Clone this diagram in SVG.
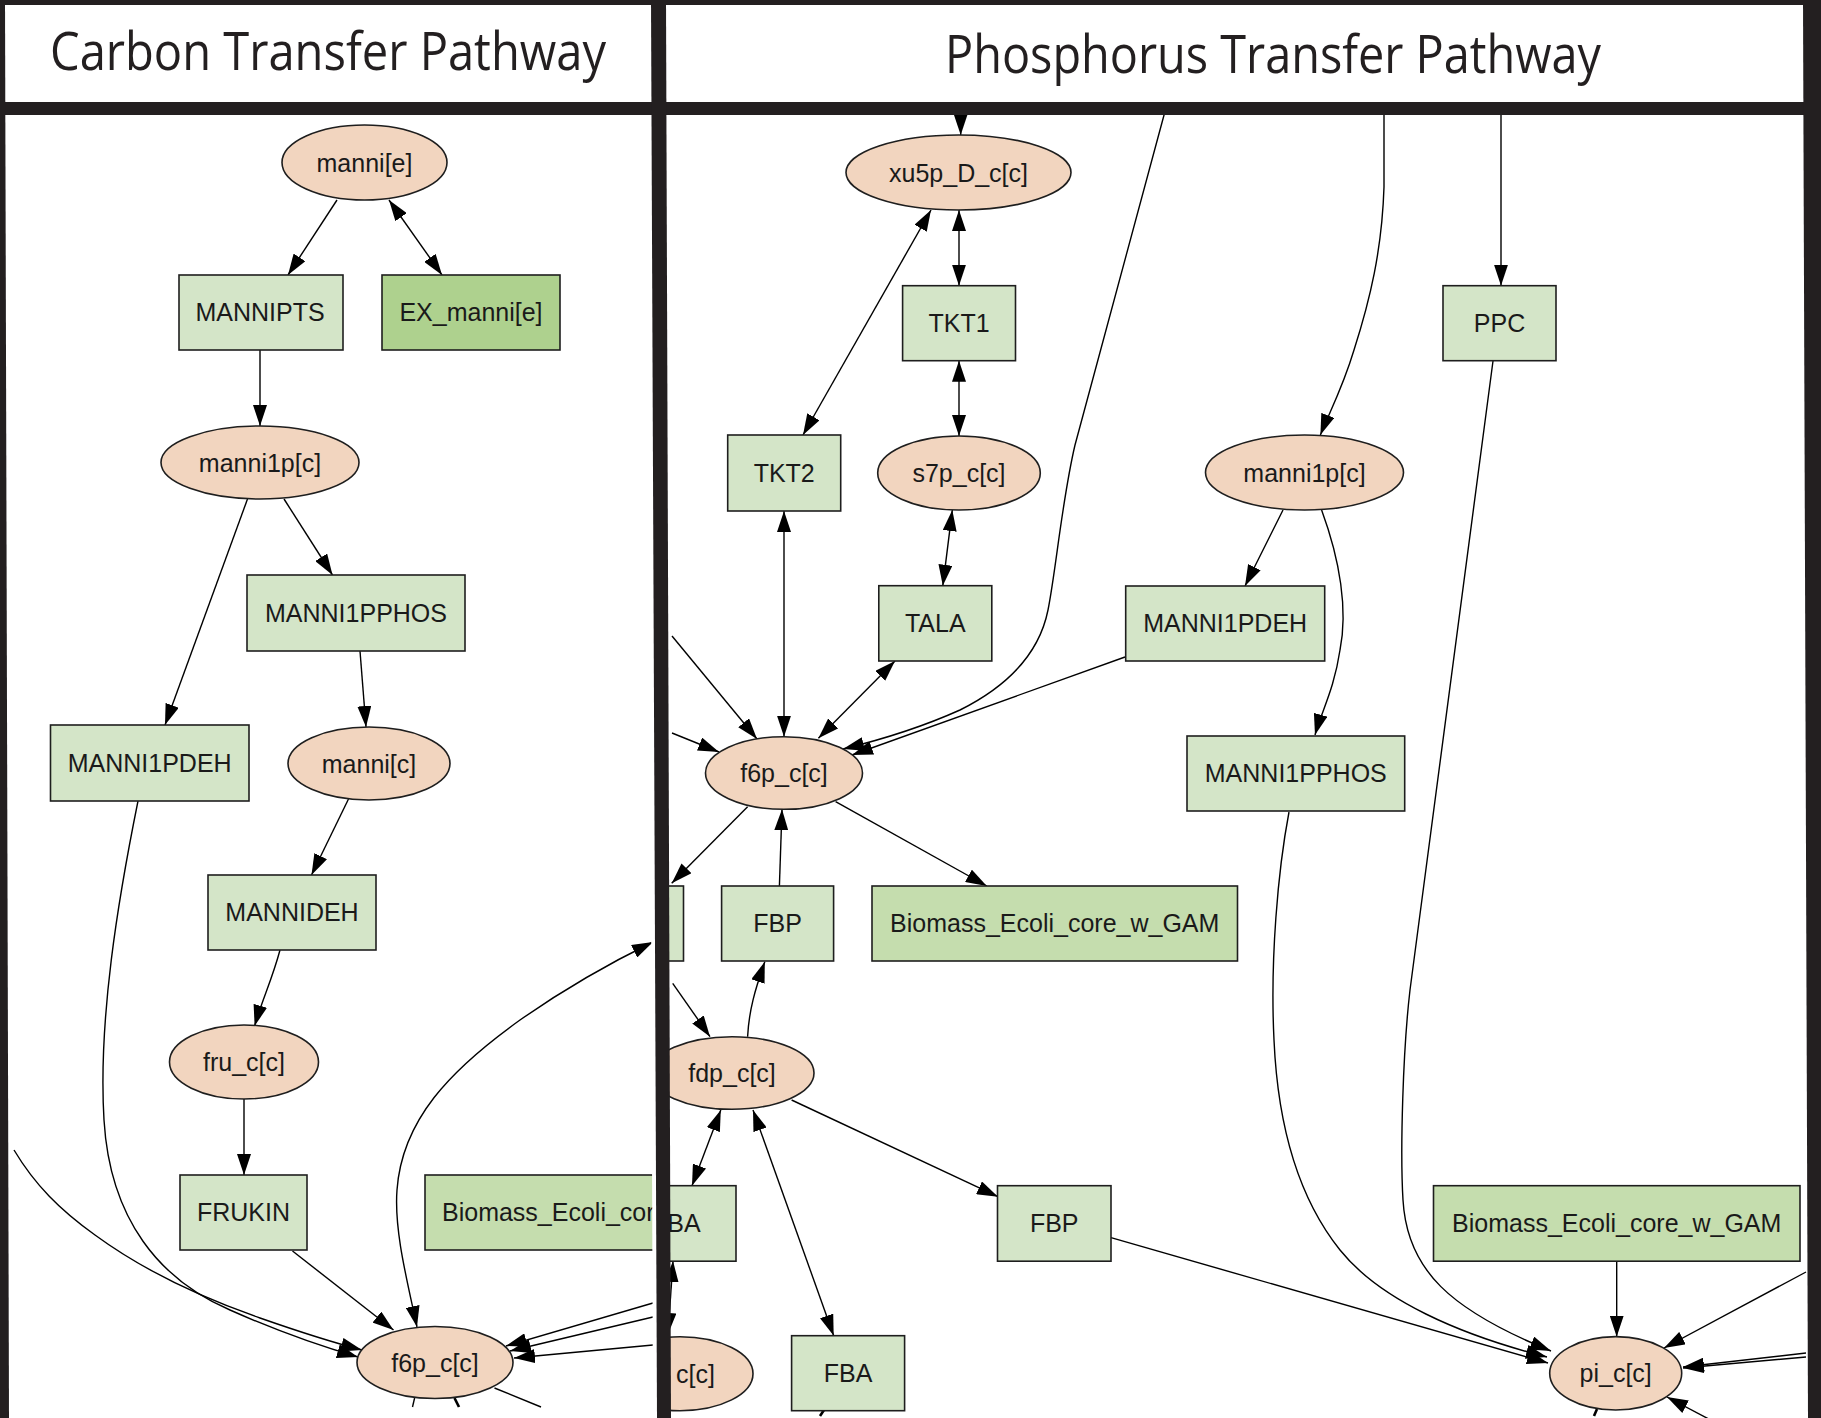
<svg xmlns="http://www.w3.org/2000/svg" width="1821" height="1418" viewBox="0 0 1821 1418">
<defs>
<marker id="ah" markerUnits="userSpaceOnUse" markerWidth="21" markerHeight="14" refX="21" refY="7" orient="auto-start-reverse" viewBox="0 0 21 14">
<path d="M0,0 L21,7 L0,14 Z" fill="#000"/>
</marker>
<clipPath id="clipL"><rect x="7" y="115" width="646" height="1303"/></clipPath>
<clipPath id="clipR"><rect x="666" y="115" width="1140" height="1303"/></clipPath>
</defs>
<style>
.met ellipse{fill:#f2d5bf;stroke:#1e1e1e;stroke-width:1.6}
.rxn rect{fill:#d4e5c8;stroke:#1e1e1e;stroke-width:1.6}
.ex rect{fill:#aed18e}
.bio rect{fill:#c5ddae}
text.lbl{font-family:"Liberation Sans",Arial,sans-serif;font-size:25px;fill:#1a1a1a;text-anchor:middle}
text.st{text-anchor:start}
text.en{text-anchor:end}
#connectors path{fill:none;stroke:#000;stroke-width:1.4}
#connectors .a{marker-end:url(#ah)}
#connectors .b{marker-start:url(#ah);marker-end:url(#ah)}
#connectors .f{stroke-width:2.6}
.frame{fill:#231f20}
.title{font-family:"Open Sans","Noto Sans",sans-serif;font-size:53px;fill:#231f20}
</style>
<rect x="0" y="0" width="1821" height="1418" fill="#fff"/>

<g id="connectors">
<path class="a" d="M337,200 L288,275"/>
<path class="b" d="M389,200 L442,275"/>
<path class="a" d="M260,350 L260,426"/>
<path class="a" d="M247.5,499 L165,725"/>
<path class="a" d="M284,499 L332.5,575"/>
<path class="a" d="M360,651 L366,727"/>
<path class="a" d="M348.5,799 L311.5,875"/>
<path class="a" d="M280,950 C272,980 262,1000 254.6,1026"/>
<path class="a" d="M244,1099 L244,1175"/>
<path class="a" d="M292.5,1251 L393.5,1330"/>
<path class="a" d="M138,801 C118,900 98,1020 104,1120 C110,1220 160,1280 230,1310 C275,1330 320,1346 358,1357"/>
<path class="a" d="M14,1150 C35,1185 60,1210 95,1235 C140,1268 200,1297 260,1318 C300,1332 335,1343 362,1350"/>
<path class="b" d="M417,1327 C407,1280 394,1230 397,1190 C402,1120 450,1070 520,1020 C570,985 612,962 653,942"/>
<path class="a" d="M653,1303 L506,1346"/>
<path class="a" d="M653,1317 L510,1351"/>
<path class="a" d="M653,1345 L514,1358"/>
<path d="M414.6,1398 L412.5,1407"/>
<path class="f" d="M454.5,1398 L459,1407"/>
<path d="M494.5,1388 L541,1407"/>

<path class="a" d="M960.7,104 L960.7,135"/>
<path class="b" d="M959,210 L959,285.7"/>
<path class="b" d="M959,360.7 L959,436"/>
<path class="b" d="M931,210 L803,435"/>
<path class="b" d="M784,511 L784,736.7"/>
<path class="b" d="M952.3,510 L942.8,585.7"/>
<path class="b" d="M895,661 L818.4,738.3"/>
<path class="a" d="M672,636 L757,739"/>
<path class="a" d="M672,733 L719,752"/>
<path class="a" d="M1167,104 L1075,445 C1062,500 1056,570 1048,610 C1038,660 1000,690 960,710 C920,728 880,740 843,749"/>
<path class="a" d="M1125,657 L852,755"/>
<path class="a" d="M747.6,806.7 L671.7,883.3"/>
<path class="a" d="M779.4,886 L782,809.3"/>
<path class="a" d="M835.6,801.7 L986.8,886"/>
<path class="a" d="M672.7,983.3 L710,1036.7"/>
<path class="a" d="M747.6,1036.7 C749,1010 755,990 764.8,961.7"/>
<path class="a" d="M791.6,1100 L998,1196.7"/>
<path class="b" d="M720.8,1110 L692,1185.7"/>
<path class="b" d="M753,1110 L833.7,1335.7"/>
<path class="b" d="M673,1261 L668,1334"/>
<path class="a" d="M1111,1237.7 L1548,1363"/>
<path class="a" d="M1289,812 C1278,870 1270,960 1274,1040 C1278,1130 1300,1200 1340,1250 C1380,1300 1460,1335 1547,1357"/>
<path class="a" d="M1493,361 L1410,990 C1403,1050 1400,1150 1403,1200 C1407,1270 1450,1310 1551,1351"/>
<path class="a" d="M1283,510 L1245,586"/>
<path class="a" d="M1321.6,510 C1340,560 1348,610 1340,650 C1334,690 1322,710 1315,735"/>
<path class="a" d="M1384,104 L1384,187 C1382,250 1370,300 1354,350 C1342,390 1328,415 1320.4,435"/>
<path class="a" d="M1501,104 L1501,285.7"/>
<path class="a" d="M1616.7,1261 L1616.7,1336.7"/>
<path class="a" d="M1806,1272 L1664,1348"/>
<path class="a" d="M1806,1353 L1683,1367"/>
<path class="a" d="M1806,1357 L1683,1368"/>
<path class="a" d="M1722,1426 L1667,1397"/>
<path class="f" d="M1597,1409 L1594,1416"/>
<path class="f" d="M824,1410 L820,1416"/>
</g>

<!-- Carbon panel nodes -->
<g id="manni_e" class="met"><ellipse cx="364.5" cy="162.5" rx="82.5" ry="37.5"/><text class="lbl" x="364.5" y="171.5">manni[e]</text></g>
<g id="MANNIPTS" class="rxn"><rect x="179" y="275" width="164" height="75"/><text class="lbl" x="260" y="321">MANNIPTS</text></g>
<g id="EX_manni_e" class="rxn ex"><rect x="382" y="275" width="178" height="75"/><text class="lbl" x="471" y="321">EX_manni[e]</text></g>
<g id="manni1p_c_L" class="met"><ellipse cx="260" cy="462.5" rx="99" ry="36.5"/><text class="lbl" x="260" y="471.5">manni1p[c]</text></g>
<g id="MANNI1PPHOS_L" class="rxn"><rect x="247" y="575" width="218" height="76"/><text class="lbl" x="356" y="621.5">MANNI1PPHOS</text></g>
<g id="MANNI1PDEH_L" class="rxn"><rect x="50.5" y="725" width="198.5" height="76"/><text class="lbl" x="149.7" y="771.5">MANNI1PDEH</text></g>
<g id="manni_c" class="met"><ellipse cx="369" cy="763.5" rx="81" ry="36.5"/><text class="lbl" x="369" y="772.5">manni[c]</text></g>
<g id="MANNIDEH" class="rxn"><rect x="208" y="875" width="168" height="75"/><text class="lbl" x="292" y="921">MANNIDEH</text></g>
<g id="fru_c" class="met"><ellipse cx="244" cy="1062" rx="74.5" ry="37"/><text class="lbl" x="244" y="1071">fru_c[c]</text></g>
<g id="FRUKIN" class="rxn"><rect x="180" y="1175" width="127" height="75"/><text class="lbl" x="243.5" y="1221">FRUKIN</text></g>
<g id="Biomass_L" class="rxn bio" clip-path="url(#clipL)"><rect x="425" y="1175" width="245" height="75"/><text class="lbl st" x="442" y="1221">Biomass_Ecoli_cor</text></g>
<g id="f6p_c_L" class="met"><ellipse cx="435" cy="1362.5" rx="78" ry="36"/><text class="lbl" x="435" y="1371.5">f6p_c[c]</text></g>

<!-- Phosphorus panel nodes -->
<g id="xu5p_D_c" class="met"><ellipse cx="958.5" cy="172.5" rx="112.5" ry="37.5"/><text class="lbl" x="958.5" y="181.5">xu5p_D_c[c]</text></g>
<g id="TKT1" class="rxn"><rect x="902.6" y="285.7" width="112.9" height="75"/><text class="lbl" x="959" y="331.7">TKT1</text></g>
<g id="PPC" class="rxn"><rect x="1443" y="285.7" width="113" height="75"/><text class="lbl" x="1499.5" y="331.7">PPC</text></g>
<g id="TKT2" class="rxn"><rect x="727.7" y="435" width="113" height="76"/><text class="lbl" x="784.2" y="481.5">TKT2</text></g>
<g id="s7p_c" class="met"><ellipse cx="959" cy="473" rx="81.3" ry="37"/><text class="lbl" x="959" y="482">s7p_c[c]</text></g>
<g id="manni1p_c_R" class="met"><ellipse cx="1304.5" cy="472.5" rx="99" ry="37.5"/><text class="lbl" x="1304.5" y="481.5">manni1p[c]</text></g>
<g id="TALA" class="rxn"><rect x="878.8" y="585.7" width="113" height="75.3"/><text class="lbl" x="935.3" y="632">TALA</text></g>
<g id="MANNI1PDEH_R" class="rxn"><rect x="1125.7" y="586" width="199" height="75"/><text class="lbl" x="1225.2" y="632">MANNI1PDEH</text></g>
<g id="MANNI1PPHOS_R" class="rxn"><rect x="1187" y="736" width="217.7" height="75"/><text class="lbl" x="1295.8" y="782">MANNI1PPHOS</text></g>
<g id="f6p_c_R" class="met"><ellipse cx="784" cy="773" rx="78.5" ry="36.3"/><text class="lbl" x="784" y="782">f6p_c[c]</text></g>
<g id="cut_box" class="rxn" clip-path="url(#clipR)"><rect x="640" y="886" width="43.5" height="75"/></g>
<g id="FBP_1" class="rxn"><rect x="721.6" y="886" width="112" height="75"/><text class="lbl" x="777.6" y="932">FBP</text></g>
<g id="Biomass_1" class="rxn bio"><rect x="872" y="886" width="365.5" height="75"/><text class="lbl" x="1054.7" y="932">Biomass_Ecoli_core_w_GAM</text></g>
<g id="fdp_c" class="met" clip-path="url(#clipR)"><ellipse cx="732" cy="1073" rx="82" ry="36.3"/><text class="lbl" x="732" y="1082">fdp_c[c]</text></g>
<g id="FBA_cut" class="rxn" clip-path="url(#clipR)"><rect x="623" y="1185.7" width="113" height="75.5"/><text class="lbl en" x="700.7" y="1232">BA</text></g>
<g id="FBP_2" class="rxn"><rect x="997.5" y="1185.7" width="113.5" height="75.5"/><text class="lbl" x="1054.2" y="1232">FBP</text></g>
<g id="Biomass_2" class="rxn bio"><rect x="1433.5" y="1185.7" width="366.5" height="75.5"/><text class="lbl" x="1616.7" y="1232">Biomass_Ecoli_core_w_GAM</text></g>
<g id="cut_met" class="met" clip-path="url(#clipR)"><ellipse cx="680" cy="1373.7" rx="73" ry="37"/><text class="lbl en" x="715" y="1382.5">c[c]</text></g>
<g id="FBA" class="rxn"><rect x="791.6" y="1335.7" width="113" height="75"/><text class="lbl" x="848.1" y="1381.5">FBA</text></g>
<g id="pi_c" class="met"><ellipse cx="1615.7" cy="1373.3" rx="66" ry="36.7"/><text class="lbl" x="1615.7" y="1382.3">pi_c[c]</text></g>

<!-- frame -->
<g id="frame">
<rect class="frame" x="0" y="0" width="1821" height="5"/>
<rect class="frame" x="0" y="102" width="1821" height="13"/>
<polygon class="frame" points="0,0 5,0 9,1418 0,1418"/>
<polygon fill="#fff" points="648,115 652,115 657,1418 653,1418"/>
<polygon class="frame" points="651,0 666,0 671,1418 657,1418"/>
<polygon class="frame" points="1803,0 1821,0 1821,1418 1808,1418"/>
<text class="title" x="50" y="70" textLength="556" lengthAdjust="spacingAndGlyphs">Carbon Transfer Pathway</text>
<text class="title" x="945" y="73" textLength="656" lengthAdjust="spacingAndGlyphs">Phosphorus Transfer Pathway</text>
</g>
</svg>
